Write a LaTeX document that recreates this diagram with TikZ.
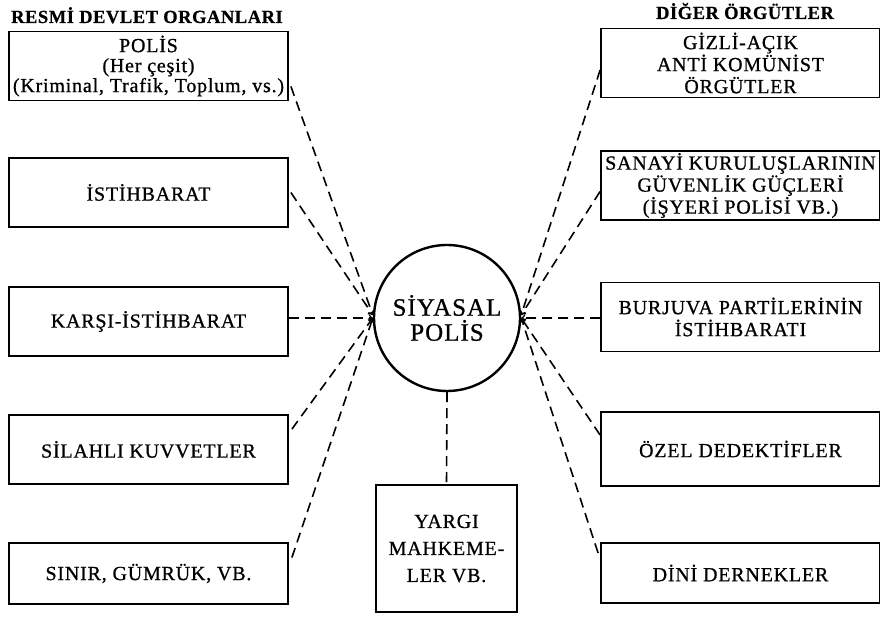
\documentclass[tikz,border=0pt]{standalone}
\usepackage{fontspec}
\setmainfont{Liberation Serif}
\newfontfamily\boxfont{Liberation Serif}[LetterSpace=4.0,FakeBold=0.8]
\newfontfamily\headfont{Liberation Serif}[LetterSpace=3.0,FakeBold=0.6]
\begin{document}
\begin{tikzpicture}[x=1pt,y=1pt,
  orgbox/.style={draw,line width=1.8pt,minimum width=279pt,minimum height=69pt,align=center,inner sep=2pt,font=\boxfont\fontsize{20}{22}\selectfont},
  head/.style={anchor=base,font=\headfont\bfseries\fontsize{18.5}{20}\selectfont},
  link/.style={->,line width=1.6pt,dash pattern=on 10pt off 6pt}]
\useasboundingbox (0,0) rectangle (880,617);
% left column
\node[head] (resmi) at (147,594) {RESMİ DEVLET ORGANLARI};
\node[orgbox,font=\boxfont\fontsize{20}{20}\selectfont] (polis) at (148.5,551) {POLİS\\(Her çeşit)\\(Kriminal, Trafik, Toplum, vs.)};
\node[orgbox] (istihbarat) at (148.5,424.5) {İSTİHBARAT};
\node[orgbox] (karsi) at (148.5,295.5) {KARŞI-İSTİHBARAT};
\node[orgbox] (silahli) at (148.5,167.5) {SİLAHLI KUVVETLER};
\node[orgbox,minimum height=61pt] (sinir) at (148.5,43.5) {SINIR, GÜMRÜK, VB.};
% center
\node[draw,circle,line width=2.4pt,minimum size=146pt,inner sep=0pt,align=center,font=\boxfont\fontsize{25}{25}\selectfont] (sp) at (447,299) {SİYASAL\\POLİS};
\node[orgbox,minimum width=141pt,minimum height=127pt,font=\boxfont\fontsize{20}{27}\selectfont] (yargi) at (446.5,68.5) {YARGI\\MAHKEME-\\LER VB.};
% right column
\node[head] (diger) at (745,598) {DİĞER ÖRGÜTLER};
\node[orgbox] (gizli) at (740.5,554) {GİZLİ-AÇIK\\ANTİ KOMÜNİST\\ÖRGÜTLER};
\node[orgbox,minimum height=67pt] (sanayi) at (740.5,431.5) {SANAYİ KURULUŞLARININ\\GÜVENLİK GÜÇLERİ\\(İŞYERİ POLİSİ VB.)};
\node[orgbox] (burjuva) at (740.5,300) {BURJUVA PARTİLERİNİN\\İSTİHBARATI};
\node[orgbox,minimum height=74pt] (ozel) at (740.5,168) {ÖZEL DEDEKTİFLER};
\node[orgbox,minimum height=60pt] (dini) at (740.5,44) {DİNİ DERNEKLER};
% connectors
\draw[link] ([xshift=2pt,yshift=15pt]polis.south east) -- ([yshift=3pt]sp.west);
\draw[link] ([xshift=2pt]istihbarat.east) -- ([yshift=3pt]sp.west);
\draw[link] (karsi.east |- sp.west) -- (sp.west);
\draw[link] ([xshift=3pt,yshift=-15pt]silahli.north east) -- (sp.west);
\draw[link] ([xshift=3pt,yshift=16pt]sinir.east) -- (sp.west);
\draw[link] ([yshift=-7pt]gizli.west) -- ([yshift=3pt]sp.east);
\draw[link] ([yshift=-6pt]sanayi.west) -- ([yshift=3pt]sp.east);
\draw[link] (burjuva.west |- sp.east) -- (sp.east);
\draw[link] ([yshift=14pt]ozel.west) -- (sp.east);
\draw[link] ([xshift=-2pt,yshift=20pt]dini.west) -- (sp.east);
\draw[line width=1.6pt,dash pattern=on 10pt off 6pt] (sp.south) -- (yargi.north);
\end{tikzpicture}
\end{document}
